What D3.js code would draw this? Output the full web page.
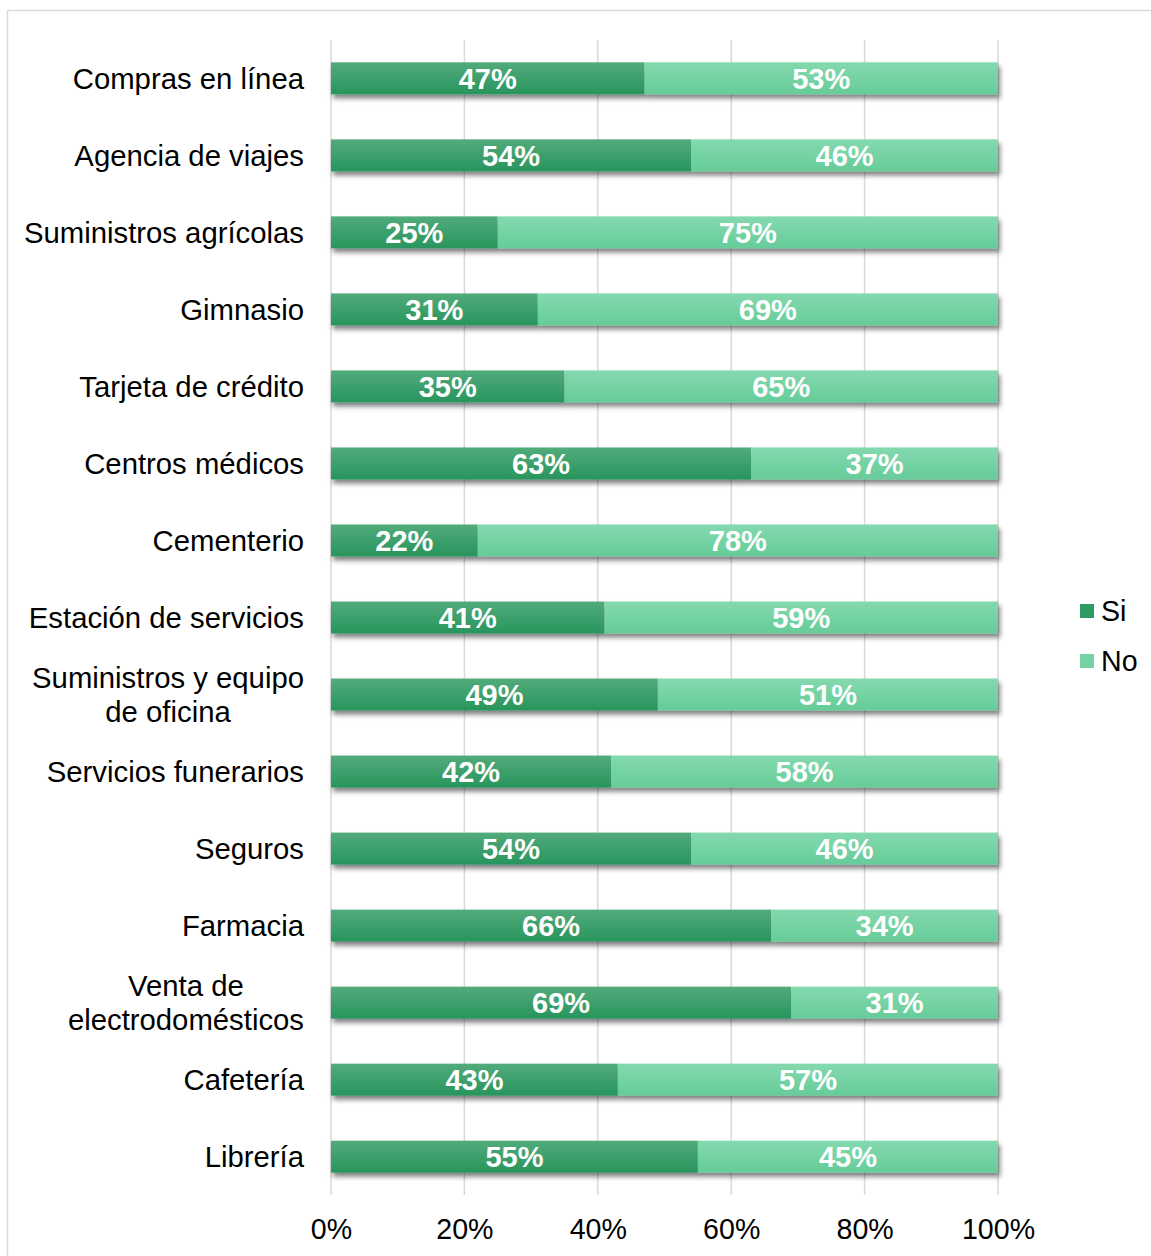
<!DOCTYPE html>
<html>
<head>
<meta charset="utf-8">
<script src="https://cdn.jsdelivr.net/npm/d3@7"></script>
<style>
  html, body { margin: 0; padding: 0; background: #fff; }
  svg { display: block; font-family: "Liberation Sans", Arial, sans-serif; }
</style>
</head>
<body>
<svg id="chart" width="1151" height="1256"></svg>
<script>
// Categories, top to bottom ("\n" splits a label over two lines)
const categories = [
  "Compras en línea",
  "Agencia de viajes",
  "Suministros agrícolas",
  "Gimnasio",
  "Tarjeta de crédito",
  "Centros médicos",
  "Cementerio",
  "Estación de servicios",
  "Suministros y equipo\nde oficina",
  "Servicios funerarios",
  "Seguros",
  "Farmacia",
  "Venta de\nelectrodomésticos",
  "Cafetería",
  "Librería"
];
// Share answering "Si" and "No", in percent
const si = [47, 54, 25, 31, 35, 63, 22, 41, 49, 42, 54, 66, 69, 43, 55];
const no = [53, 46, 75, 69, 65, 37, 78, 59, 51, 58, 46, 34, 31, 57, 45];
const seriesNames = ["Si", "No"];
const tickValues = [0, 20, 40, 60, 80, 100];

const svg = d3.select("#chart");
const W = 1151, H = 1256;
const plot = { left: 331, right: 998, top: 40, bottom: 1195 };

// Outer chart frame
svg.append("path")
  .attr("d", `M7.5,${H} V10.5 H${W}`)
  .attr("fill", "none")
  .attr("stroke", "#d9d9d9")
  .attr("stroke-width", 1.5);

const defs = svg.append("defs");
const shadow = defs.append("filter").attr("id", "barShadow")
  .attr("x", "-5%").attr("y", "-40%").attr("width", "110%").attr("height", "200%");
shadow.append("feDropShadow")
  .attr("dx", 2).attr("dy", 4).attr("stdDeviation", 2.5)
  .attr("flood-color", "#000").attr("flood-opacity", 0.5);

function gradient(id, top, bottom) {
  const g = defs.append("linearGradient").attr("id", id)
    .attr("x1", 0).attr("y1", 0).attr("x2", 0).attr("y2", 1);
  g.append("stop").attr("offset", "0%").attr("stop-color", top);
  g.append("stop").attr("offset", "100%").attr("stop-color", bottom);
}
gradient("gSi", "#52ab7b", "#28955d");
gradient("gNo", "#84d9ae", "#66cc99");
const fills = { Si: "url(#gSi)", No: "url(#gNo)" };
const legendFills = { Si: "#2f9a63", No: "#74d3a5" };

const x = d3.scaleLinear().domain([0, 100]).range([plot.left, plot.right]);
const y = d3.scaleBand().domain(categories).range([plot.top, plot.bottom])
  .paddingInner(0.585).paddingOuter(0.29);

// Vertical gridlines
svg.append("g").selectAll("line").data(tickValues).join("line")
  .attr("x1", d => x(d)).attr("x2", d => x(d))
  .attr("y1", plot.top).attr("y2", plot.bottom)
  .attr("stroke", "#d9d9d9").attr("stroke-width", 1.5);

// Stacked bars
const rows = categories.map((c, i) => ({ cat: c, Si: si[i], No: no[i] }));
const stacked = d3.stack().keys(seriesNames)(rows);

const layer = svg.append("g").attr("filter", "url(#barShadow)");
layer.selectAll("g").data(stacked).join("g")
  .attr("fill", d => fills[d.key])
  .selectAll("rect").data(d => d).join("rect")
    .attr("x", d => x(d[0]))
    .attr("width", d => x(d[1]) - x(d[0]))
    .attr("y", d => y(d.data.cat))
    .attr("height", y.bandwidth());

// Value labels inside segments
const lab = svg.append("g");
stacked.forEach(s => {
  lab.selectAll(null).data(s).join("text")
    .attr("x", d => (x(d[0]) + x(d[1])) / 2)
    .attr("y", d => y(d.data.cat) + y.bandwidth() / 2)
    .attr("dy", "0.36em")
    .attr("text-anchor", "middle")
    .attr("fill", "#fff")
    .attr("font-weight", "bold")
    .attr("font-size", 29)
    .text(d => `${d.data[s.key]}%`);
});

// Category labels (multi-line ones are centred as a block, right-aligned)
const catG = svg.append("g");
categories.forEach(c => {
  const lines = c.split("\n");
  const cy = y(c) + y.bandwidth() / 2;
  const lh = 34;
  const t = catG.append("text")
    .attr("font-size", 29.3).attr("fill", "#000");
  lines.forEach((ln, k) => {
    t.append("tspan").text(ln)
      .attr("y", cy + (k - (lines.length - 1) / 2) * lh)
      .attr("dy", "0.36em");
  });
  if (lines.length === 1) {
    t.attr("text-anchor", "end").selectAll("tspan").attr("x", 304);
  } else {
    let maxW = 0;
    t.selectAll("tspan").each(function () {
      maxW = Math.max(maxW, this.getComputedTextLength());
    });
    t.attr("text-anchor", "middle").selectAll("tspan").attr("x", 304 - maxW / 2);
  }
});

// X axis tick labels
const xAxis = d3.axisBottom(x).tickValues(tickValues).tickFormat(d => d + "%").tickSize(0).tickPadding(0);
const ax = svg.append("g").attr("transform", `translate(0, 1229)`).call(xAxis);
ax.select(".domain").remove();
ax.selectAll("text").attr("font-size", 28.6).attr("fill", "#000")
  .attr("font-family", "'Liberation Sans', Arial, sans-serif").attr("dy", "0.36em").attr("y", 0);

// Legend
const legend = svg.append("g");
seriesNames.forEach((n, i) => {
  const ly = 611 + i * 50;
  legend.append("rect").attr("x", 1080).attr("y", ly - 7).attr("width", 14).attr("height", 14)
    .attr("fill", legendFills[n]);
  legend.append("text").attr("x", 1101).attr("y", ly).attr("dy", "0.36em")
    .attr("font-size", 28.6).attr("fill", "#000").text(n);
});
</script>
</body>
</html>
